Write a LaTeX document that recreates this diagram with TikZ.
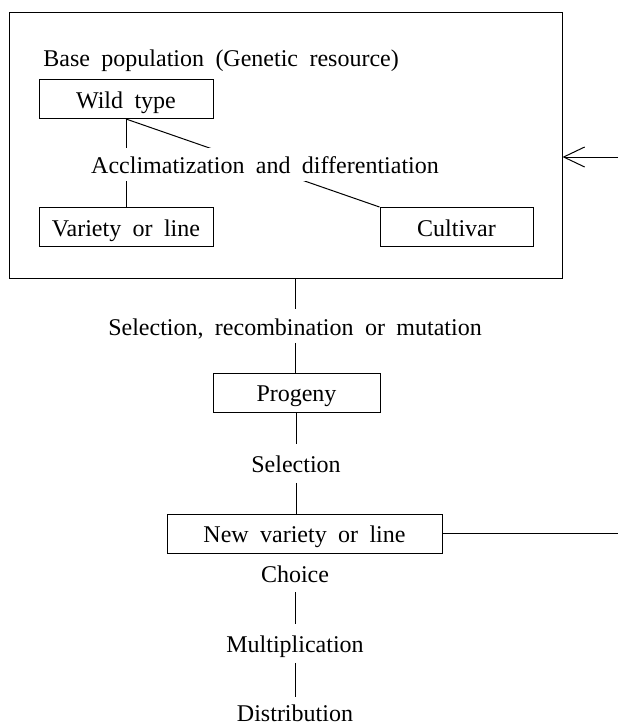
\documentclass[tikz,border=0pt]{standalone}
\usepackage{fontspec}
\setmainfont{Liberation Serif}[WordSpace=1.9]
\usetikzlibrary{                          % TikZ libraries
                calc,                     % .
                arrows.meta,              % .
                backgrounds}

\begin{document}
\begin{tikzpicture}[x=0.5pt,y=-0.5pt
                    ]
                % define styles
\tikzset{stage-box/.style={rectangle,
                       draw=black,
                       line width=0.5pt,
                       inner sep=0,
                       minimum height=19.5pt,
                       text height=9pt,
                       text depth=0pt,
                       font=\fontsize{12}{14}\selectfont,
                       },
         stage-text/.style={rectangle,
                       inner sep=0,
                       minimum height=19pt,
                       text height=9pt,
                       text depth=0pt,
                       font=\fontsize{12}{14}\selectfont,
                       },
         link/.style={draw=black,
                       line width=0.5pt,
                       }
}

\useasboundingbox (0,0) rectangle (618,724);

% outer box
\node[stage-box, minimum width=276.5pt, minimum height=133pt] (pool) at (285.5,145) {};

% nodes inside the base population
\node[stage-text, anchor=west] (base)     at (43,57)      {Base population (Genetic resource)};
\node[stage-box, minimum width=87pt]   (wild)     at (126,99)     {Wild type};
\node[stage-text, fill=white, minimum height=16.5pt]
                                       (accl)     at (265,164)    {Acclimatization and differentiation};
\node[stage-box, minimum width=87pt]   (variety)  at (126,227)    {Variety or line};
\node[stage-box, minimum width=76.5pt] (cultivar) at (456.5,227)  {Cultivar};

% breeding column
\node[stage-text, minimum height=16.5pt]
                                       (recomb)   at (295,326)    {Selection, recombination or mutation};
\node[stage-box, minimum width=83.5pt] (progeny)  at (296.5,392.5){Progeny};
\node[stage-text]                      (select)   at (296,463.5)  {Selection};
\node[stage-box, minimum width=137.5pt](newvar)   at (304.5,533.5){New variety or line};
\node[stage-text]                      (choice)   at (295,573)    {Choice};
\node[stage-text]                      (multi)    at (295,643.5)  {Multiplication};
\node[stage-text, minimum height=15pt] (distr)    at (295,712)    {Distribution};

% free ends on the right
\coordinate (source) at (618,157);
\coordinate (feed)   at (618,533.5);

% lines behind the label
\begin{scope}[on background layer]
    \draw[link] (wild.south) -- (variety.north);
    \draw[link] (wild.south) -- (cultivar.north west);
\end{scope}

% connectors
\draw[link] (recomb.north |- pool.south) -- (recomb.north);
\draw[link] (recomb.south) -- (recomb.south |- progeny.north);
\draw[link] (select.north |- progeny.south) -- (select.north);
\draw[link] (select.south) -- (select.south |- newvar.north);
\draw[link] (choice.south) -- (multi.north);
\draw[link] (multi.south) -- (distr.north);
\draw[link] (newvar.east) -- (feed);
\draw[link,-{Straight Barb[length=10.5pt,width=10pt]}] (source) -- (source -| pool.east);

            \end{tikzpicture}
\end{document}
